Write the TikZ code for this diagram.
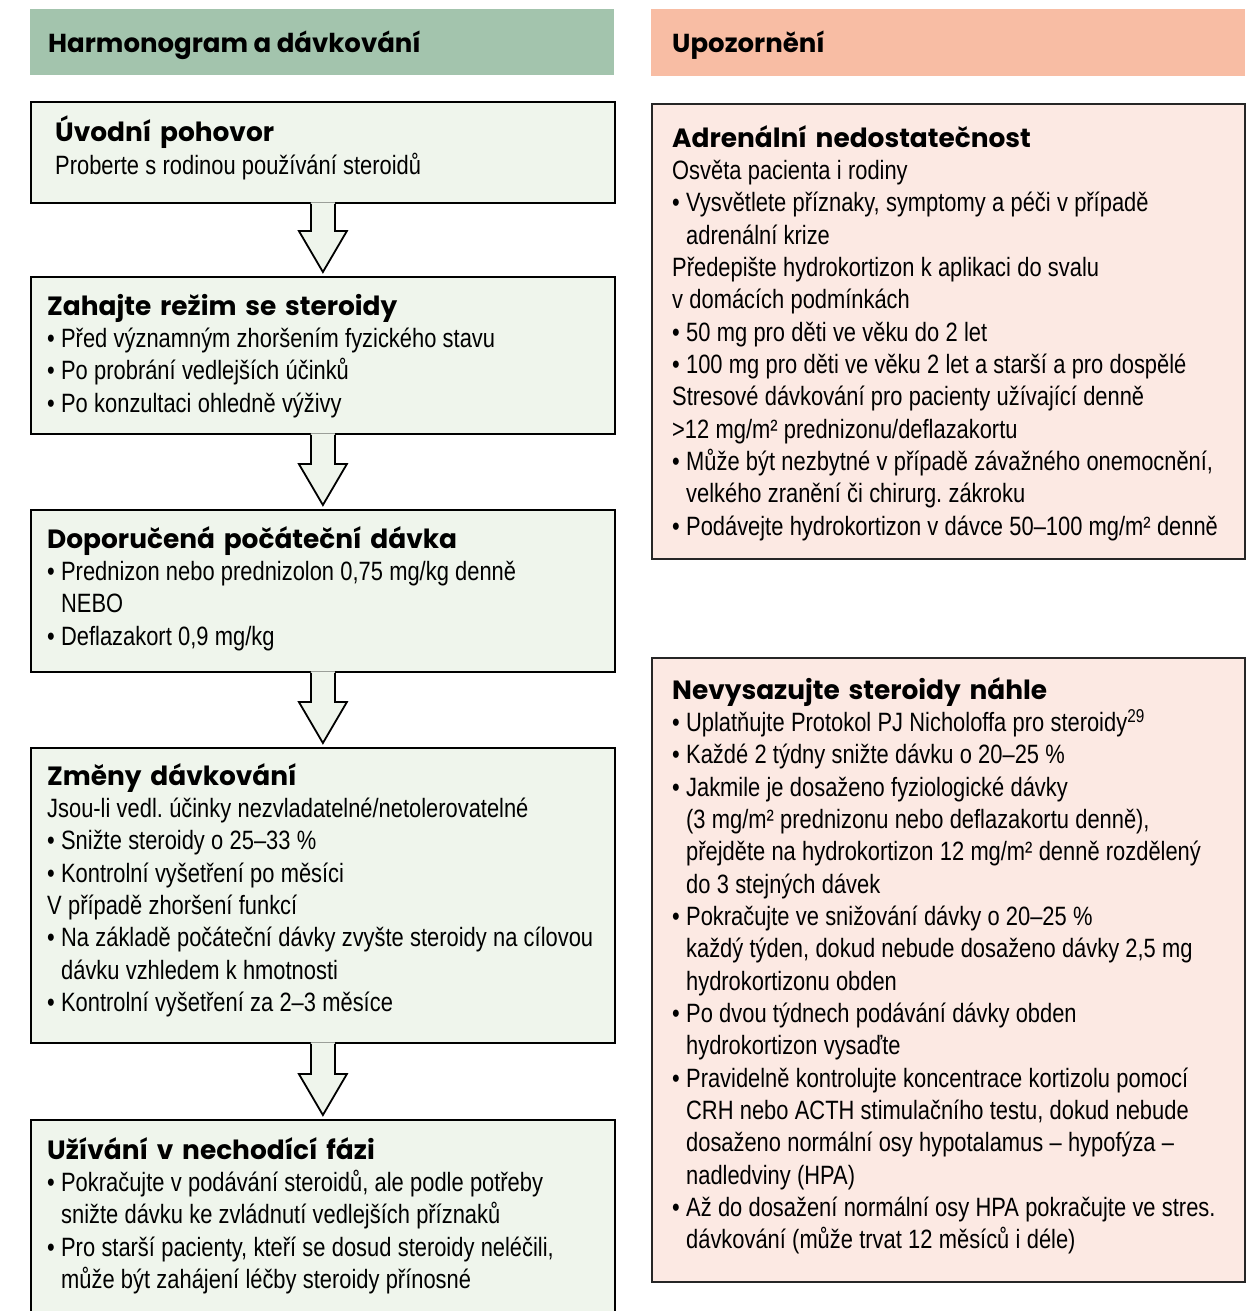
\documentclass[tikz,border=0pt]{standalone}
\usepackage{fontspec}
\setmainfont{Liberation Sans}[FakeStretch=0.826]
\newfontfamily\headfont{Poppins}
\usetikzlibrary{calc}
\frenchspacing

\definecolor{greenhead}{HTML}{A3C4AD}
\definecolor{salmonhead}{HTML}{F8BDA4}
\definecolor{greenfill}{HTML}{EFF5EC}
\definecolor{salmonfill}{HTML}{FCE9E3}

% bold heading line, bullet, and hanging indent for bullet continuations
\newcommand\hd[1]{{\fontsize{26.4}{32.35}\selectfont\headfont\bfseries\spaceskip=.3333em\relax #1}}
\newcommand\bl{•\hspace{6.3pt}}
\newcommand\ind{\hphantom{\bl}}
% body face: condensed
\newcommand\bodyfont{\fontsize{26.5}{32.35}\selectfont}
% tight fixed word spaces, set inside the node after its alignment setup
\newcommand\tightspaces{\spaceskip=6.3pt\relax\xspaceskip=6.3pt\relax}

\begin{document}
\begin{tikzpicture}[x=1pt,y=-1pt,
  bar/.style={draw=none, inner sep=0, anchor=north west, minimum height=66},
  gbox/.style={draw=black, line width=1.8, fill=greenfill, inner sep=0, anchor=north west, minimum width=584},
  sbox/.style={draw=black!85, line width=1.8, fill=salmonfill, inner sep=0, anchor=north west, minimum width=593},
  txt/.style={font=\bodyfont, align=left, text width=580, inner sep=0, anchor=base west,
    execute at begin node=\tightspaces},
  bartxt/.style={font=\fontsize{26}{30}\selectfont\headfont\bfseries, inner sep=0, anchor=base west},
  arrowfill/.style={fill=greenfill},
  arrowline/.style={draw=black, line width=1.8, line join=miter}]

\useasboundingbox (0,0) rectangle (1253,1311);

% column headers
\node[bar, fill=greenhead, minimum width=584] (hl) at (30,9) {};
\node[bartxt] (hlt) at (48,53) {Harmonogram a dávkování};
\node[bar, fill=salmonhead, minimum width=594, minimum height=67] (hr) at (651,9) {};
\node[bartxt] (hrt) at (672,53) {Upozornění};

% left column boxes
\node[gbox, minimum height=101] (b1) at (30,101) {};
\node[gbox, minimum height=157] (b2) at (30,276) {};
\node[gbox, minimum height=162] (b3) at (30,509) {};
\node[gbox, minimum height=295] (b4) at (30,747) {};
\node[gbox, minimum height=230] (b5) at (30,1119) {};

% block arrows between the left boxes
\foreach \a/\b in {b1/b2,b2/b3,b3/b4,b4/b5}{
  \fill[arrowfill] ($(\a.south)+(-12,-1.5)$) -- ($(\b.north)+(-12,-45)$) -- ($(\b.north)+(-24,-45)$)
     -- ($(\b.north)+(0,-4)$) -- ($(\b.north)+(24,-45)$) -- ($(\b.north)+(12,-45)$)
     -- ($(\a.south)+(12,-1.5)$) -- cycle;
  \draw[arrowline] ($(\a.south)+(-12,0)$) -- ($(\b.north)+(-12,-45)$) -- ($(\b.north)+(-24,-45)$)
     -- ($(\b.north)+(0,-4)$) -- ($(\b.north)+(24,-45)$) -- ($(\b.north)+(12,-45)$)
     -- ($(\a.south)+(12,0)$);
}

% right column boxes
\node[sbox, minimum height=455] (ra) at (651,103) {};
\node[sbox, minimum height=624] (rb) at (651,657) {};

% left column texts
\node[txt] (t1) at (55,142) {\hd{Úvodní pohovor}\\
Proberte s rodinou používání steroidů};

\node[txt] (t2) at (47,315) {\hd{Zahajte režim se steroidy}\\
\bl Před významným zhoršením fyzického stavu\\
\bl Po probrání vedlejších účinků\\
\bl Po konzultaci ohledně výživy};

\node[txt] (t3) at (47,548) {\hd{Doporučená počáteční dávka}\\
\bl Prednizon nebo prednizolon 0,75 mg/kg denně\\
\ind NEBO\\
\bl Deflazakort 0,9 mg/kg};

\node[txt] (t4) at (47,785) {\hd{Změny dávkování}\\
Jsou-li vedl. účinky nezvladatelné/netolerovatelné\\
\bl Snižte steroidy o 25–33 \%\\
\bl Kontrolní vyšetření po měsíci\\
V případě zhoršení funkcí\\
\bl Na základě počáteční dávky zvyšte steroidy na cílovou\\
\ind dávku vzhledem k hmotnosti\\
\bl Kontrolní vyšetření za 2–3 měsíce};

\node[txt] (t5) at (47,1159) {\hd{Užívání v nechodící fázi}\\
\bl Pokračujte v podávání steroidů, ale podle potřeby\\
\ind snižte dávku ke zvládnutí vedlejších příznaků\\
\bl Pro starší pacienty, kteří se dosud steroidy neléčili,\\
\ind může být zahájení léčby steroidy přínosné};

% right column texts
\node[txt] (ta) at (672,147) {\hd{Adrenální nedostatečnost}\\
Osvěta pacienta i rodiny\\
\bl Vysvětlete příznaky, symptomy a péči v případě\\
\ind adrenální krize\\
Předepište hydrokortizon k aplikaci do svalu\\
v domácích podmínkách\\
\bl 50 mg pro děti ve věku do 2 let\\
\bl 100 mg pro děti ve věku 2 let a starší a pro dospělé\\
Stresové dávkování pro pacienty užívající denně\\
>12 mg/m² prednizonu/deflazakortu\\
\bl Může být nezbytné v případě závažného onemocnění,\\
\ind velkého zranění či chirurg. zákroku\\
\bl Podávejte hydrokortizon v dávce 50–100 mg/m² denně};

\node[txt] (tb) at (672,699) {\hd{Nevysazujte steroidy náhle}\\
\bl Uplatňujte Protokol PJ Nicholoffa pro steroidy\textsuperscript{29}\\
\bl Každé 2 týdny snižte dávku o 20–25 \%\\
\bl Jakmile je dosaženo fyziologické dávky\\
\ind (3 mg/m² prednizonu nebo deflazakortu denně),\\
\ind přejděte na hydrokortizon 12 mg/m² denně rozdělený\\
\ind do 3 stejných dávek\\
\bl Pokračujte ve snižování dávky o 20–25 \%\\
\ind každý týden, dokud nebude dosaženo dávky 2,5 mg\\
\ind hydrokortizonu obden\\
\bl Po dvou týdnech podávání dávky obden\\
\ind hydrokortizon vysaďte\\
\bl Pravidelně kontrolujte koncentrace kortizolu pomocí\\
\ind CRH nebo ACTH stimulačního testu, dokud nebude\\
\ind dosaženo normální osy hypotalamus – hypofýza –\\
\ind nadledviny (HPA)\\
\bl Až do dosažení normální osy HPA pokračujte ve stres.\\
\ind dávkování (může trvat 12 měsíců i déle)};

\end{tikzpicture}
\end{document}
